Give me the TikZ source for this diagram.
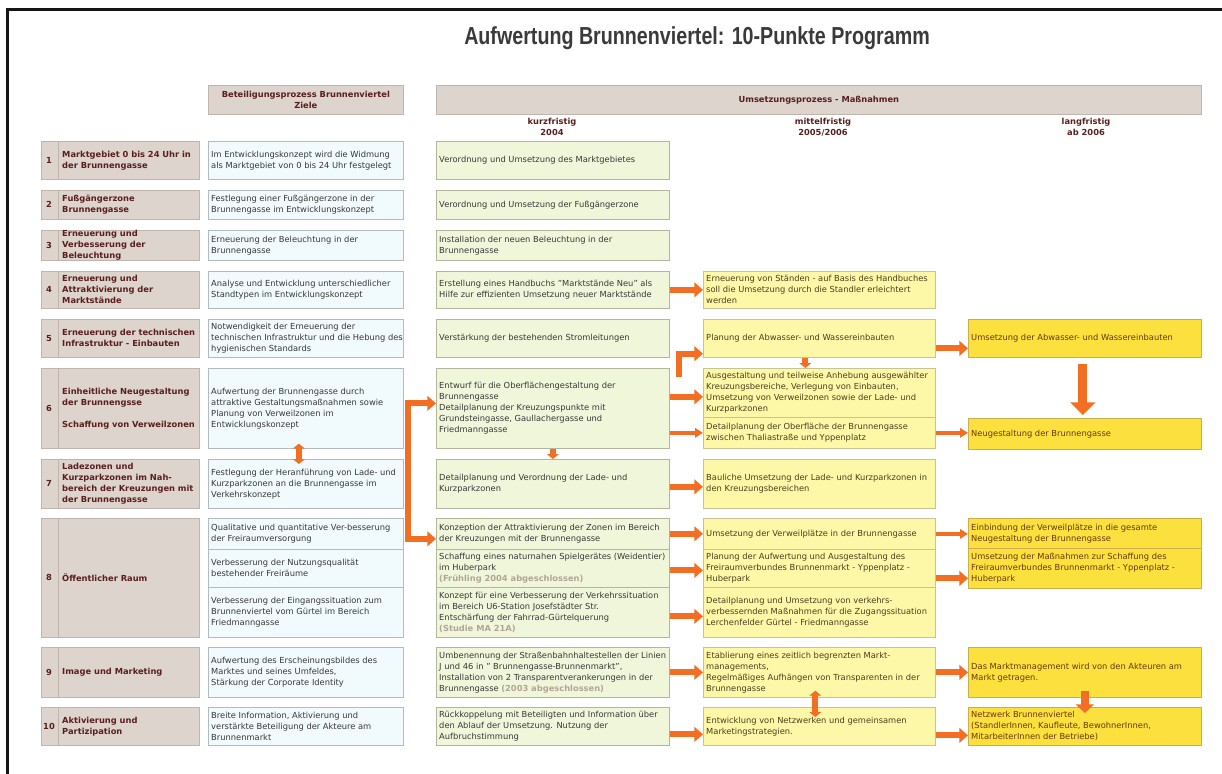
\documentclass[tikz,border=0pt]{standalone}
\usepackage{fontspec}
\setmainfont{DejaVu Sans}
\newfontfamily\titelfont[FakeStretch=0.8]{Liberation Sans}
\usetikzlibrary{arrows.meta,calc}

% Farben
\definecolor{rahmen}{HTML}{151515}
\definecolor{titelgrau}{HTML}{3A3A3A}
\definecolor{taupe}{HTML}{DDD4CD}
\definecolor{taupeRand}{HTML}{C0B4AB}
\definecolor{weinrot}{HTML}{5A1E1E}
\definecolor{zielFill}{HTML}{F1FAFC}
\definecolor{zielRand}{HTML}{B2BCC0}
\definecolor{kurzFill}{HTML}{F0F6DA}
\definecolor{kurzRand}{HTML}{B3B59C}
\definecolor{mittelFill}{HTML}{FDF8A8}
\definecolor{mittelRand}{HTML}{C9C296}
\definecolor{langFill}{HTML}{FBE03E}
\definecolor{langRand}{HTML}{CCAE4A}
\definecolor{pfeilfarbe}{HTML}{F26E22}
\definecolor{erledigt}{HTML}{B3A596}
\definecolor{textgrau}{HTML}{383838}
\definecolor{textoliv}{HTML}{4A3E1C}
\definecolor{textbraun}{HTML}{6A3612}

\newcommand{\klein}{\fontsize{7.1}{9.4}\selectfont}
\newcommand{\fertig}[1]{{\bfseries\color{erledigt}#1}}

% Kasten mit Text: Stil, Name, x, y (oben links), Hoehe, Text
\newcommand{\feld}[6]{%
  \node[#1, hoch=#5] (#2) at (#3,#4) {};
  \node[#1 text] (#2-t) at ($(#2.west)+(3,0)$) {#6};}

\tikzset{
  hoch/.style={minimum height={#1*0.3mm}},
  feld/.style={draw, line width=0.6pt, anchor=north west, inner sep=0pt},
  feldtext/.style={anchor=west, align=left, inner sep=0pt, font=\klein},
  kopf/.style={draw=taupeRand, fill=taupe, line width=0.6pt, anchor=north west,
    align=center, font=\klein\bfseries, text=weinrot, minimum height=8.7mm},
  spalte/.style={align=center, font=\klein\bfseries, text=weinrot, inner sep=0pt},
  titel/.style={feld, draw=taupeRand, fill=taupe, minimum width=47.4mm},
  titel text/.style={feldtext, font=\klein\bfseries, text=weinrot},
  nummer/.style={inner sep=0pt, font=\klein\bfseries, text=weinrot},
  ziel/.style={feld, draw=zielRand, fill=zielFill, minimum width=58.5mm},
  ziel text/.style={feldtext, text=textgrau},
  kurz/.style={feld, draw=kurzRand, fill=kurzFill, minimum width=69.9mm},
  kurz text/.style={feldtext, text=textgrau},
  mittel/.style={feld, draw=mittelRand, fill=mittelFill, minimum width=69.6mm},
  mittel text/.style={feldtext, text=textoliv},
  lang/.style={feld, draw=langRand, fill=langFill, minimum width=69.9mm},
  lang text/.style={feldtext, text=textbraun},
  % Pfeile
  pfeil/.style={draw=pfeilfarbe, line width=1.8mm, -{Triangle[width=4.4mm,length=2.6mm]}},
  pfeil duenn/.style={draw=pfeilfarbe, line width=1.1mm, -{Triangle[width=2.8mm,length=2.4mm]}},
  pfeil gross/.style={draw=pfeilfarbe, line width=2.7mm, -{Triangle[width=7.4mm,length=3.8mm]}},
  pfeil klein/.style={draw=pfeilfarbe, line width=1.8mm, -{Triangle[width=3.6mm,length=1.5mm]}},
  doppelpfeil/.style={draw=pfeilfarbe, line width=1.8mm,
    {Triangle[width=3.6mm,length=1.5mm]}-{Triangle[width=3.6mm,length=1.5mm]}},
}

\begin{document}
\begin{tikzpicture}[x=0.3mm, y=-0.3mm]
    \useasboundingbox (0,0) rectangle (1222,773);
    % Rahmen
    \draw[rahmen, line width=0.9mm] (7,800) -- (7,9.5) -- (1240,9.5);

    % Ueberschrift
    \node[font={\titelfont\bfseries\fontsize{21}{24}\selectfont}, text=titelgrau] (ueberschrift)
        at (697,38) {Aufwertung Brunnenviertel: 10-Punkte Programm};

    % Koepfe
    \node[kopf, minimum width=58.5mm] (zielkopf) at (208,85) {Beteiligungsprozess Brunnenviertel\\Ziele};
    \node[kopf, minimum width=229.5mm] (umsetzung) at (436,85) {Umsetzungsprozess - Maßnahmen};
    \node[spalte] (kurzkopf) at (552,127) {kurzfristig\\2004};
    \node[spalte] (mittelkopf) at (823,127) {mittelfristig\\2005/2006};
    \node[spalte] (langkopf) at (1086,127) {langfristig\\ab 2006};

    % Die zehn Punkte
    \foreach \nr/\oben/\hh/\txt in {
        1/141/38/{Marktgebiet 0 bis 24 Uhr in\\der Brunnengasse},
        2/190/29/{Fußgängerzone\\Brunnengasse},
        3/230/30/{Erneuerung und\\Verbesserung der\\Beleuchtung},
        4/271/37/{Erneuerung und\\Attraktivierung der\\Marktstände},
        5/319/38/{Erneuerung der technischen\\Infrastruktur - Einbauten},
        6/368/80/{Einheitliche Neugestaltung\\der Brunnengsse\\[9.4pt]Schaffung von Verweilzonen},
        7/459/49/{Ladezonen und\\Kurzparkzonen im Nah-\\bereich der Kreuzungen mit\\der Brunnengasse},
        8/518/119/{Öffentlicher Raum},
        9/647/50/{Image und Marketing},
        10/707/38/{Aktivierung und\\Partizipation}} {
        \node[titel, hoch=\hh] (titel\nr) at (41,\oben) {};
        \draw[taupeRand, line width=0.6pt] ($(titel\nr.north west)+(17,0)$) -- ($(titel\nr.south west)+(17,0)$);
        \node[nummer] (nr\nr) at ($(titel\nr.west)+(8,0)$) {\nr};
        \node[titel text] (tt\nr) at ($(titel\nr.west)+(21,0)$) {\txt};
    }

    % Ziele
    \feld{ziel}{ziel1}{208}{141}{38}{Im Entwicklungskonzept wird die Widmung\\als Marktgebiet von 0 bis 24 Uhr festgelegt}
    \feld{ziel}{ziel2}{208}{190}{29}{Festlegung einer Fußgängerzone in der\\Brunnengasse im Entwicklungskonzept}
    \feld{ziel}{ziel3}{208}{230}{30}{Erneuerung der Beleuchtung in der\\Brunnengasse}
    \feld{ziel}{ziel4}{208}{271}{37}{Analyse und Entwicklung unterschiedlicher\\Standtypen im Entwicklungskonzept}
    \feld{ziel}{ziel5}{208}{319}{38}{Notwendigkeit der Erneuerung der\\technischen Infrastruktur und die Hebung des\\hygienischen Standards}
    \feld{ziel}{ziel6}{208}{368}{80}{Aufwertung der Brunnengasse durch\\attraktive Gestaltungsmaßnahmen sowie\\Planung von Verweilzonen im\\Entwicklungskonzept}
    \feld{ziel}{ziel7}{208}{459}{49}{Festlegung der Heranführung von Lade- und\\Kurzparkzonen an die Brunnengasse im\\Verkehrskonzept}
    \feld{ziel}{ziel8a}{208}{518}{31}{Qualitative und quantitative Ver-besserung\\der Freiraumversorgung}
    \feld{ziel}{ziel8b}{208}{549}{38}{Verbesserung der Nutzungsqualität\\bestehender Freiräume}
    \feld{ziel}{ziel8c}{208}{587}{50}{Verbesserung der Eingangssituation zum\\Brunnenviertel vom Gürtel im Bereich\\Friedmanngasse}
    \feld{ziel}{ziel9}{208}{647}{50}{Aufwertung des Erscheinungsbildes des\\Marktes und seines Umfeldes,\\Stärkung der Corporate Identity}
    \feld{ziel}{ziel10}{208}{707}{38}{Breite Information, Aktivierung und\\verstärkte Beteiligung der Akteure am\\Brunnenmarkt}

    % kurzfristig
    \feld{kurz}{kurz1}{436}{141}{38}{Verordnung und Umsetzung des Marktgebietes}
    \feld{kurz}{kurz2}{436}{190}{29}{Verordnung und Umsetzung der Fußgängerzone}
    \feld{kurz}{kurz3}{436}{230}{30}{Installation der neuen Beleuchtung in der\\Brunnengasse}
    \feld{kurz}{kurz4}{436}{271}{37}{Erstellung eines Handbuchs "Marktstände Neu" als\\Hilfe zur effizienten Umsetzung neuer Marktstände}
    \feld{kurz}{kurz5}{436}{319}{38}{Verstärkung der bestehenden Stromleitungen}
    \feld{kurz}{kurz6}{436}{368}{80}{Entwurf für die Oberflächengestaltung der\\Brunnengasse\\Detailplanung der Kreuzungspunkte mit\\Grundsteingasse, Gaullachergasse und\\Friedmanngasse}
    \feld{kurz}{kurz7}{436}{459}{49}{Detailplanung und Verordnung der Lade- und\\Kurzparkzonen}
    \feld{kurz}{kurz8a}{436}{518}{31}{Konzeption der Attraktivierung der Zonen im Bereich\\der Kreuzungen mit der Brunnengasse}
    \feld{kurz}{kurz8b}{436}{549}{38}{Schaffung eines naturnahen Spielgerätes (Weidentier)\\im Huberpark\\\fertig{(Frühling 2004 abgeschlossen)}}
    \feld{kurz}{kurz8c}{436}{587}{50}{Konzept für eine Verbesserung der Verkehrssituation\\im Bereich U6-Station Josefstädter Str.\\Entschärfung der Fahrrad-Gürtelquerung\\\fertig{(Studie MA 21A)}}
    \feld{kurz}{kurz9}{436}{647}{50}{Umbenennung der Straßenbahnhaltestellen der Linien\\J und 46 in " Brunnengasse-Brunnenmarkt",\\Installation von 2 Transparentverankerungen in der\\Brunnengasse \fertig{(2003 abgeschlossen)}}
    \feld{kurz}{kurz10}{436}{707}{38}{Rückkoppelung mit Beteiligten und Information über\\den Ablauf der Umsetzung. Nutzung der\\Aufbruchstimmung}

    % mittelfristig
    \feld{mittel}{mittel4}{703}{271}{37}{Erneuerung von Ständen - auf Basis des Handbuches\\soll die Umsetzung durch die Standler erleichtert\\werden}
    \feld{mittel}{mittel5}{703}{319}{38}{Planung der Abwasser- und Wassereinbauten}
    \feld{mittel}{mittel6a}{703}{368}{49}{Ausgestaltung und teilweise Anhebung ausgewählter\\Kreuzungsbereiche, Verlegung von Einbauten,\\Umsetzung von Verweilzonen sowie der Lade- und\\Kurzparkzonen}
    \feld{mittel}{mittel6b}{703}{417}{31}{Detailplanung der Oberfläche der Brunnengasse\\zwischen Thaliastraße und Yppenplatz}
    \feld{mittel}{mittel7}{703}{459}{49}{Bauliche Umsetzung der Lade- und Kurzparkzonen in\\den Kreuzungsbereichen}
    \feld{mittel}{mittel8a}{703}{518}{31}{Umsetzung der Verweilplätze in der Brunnengasse}
    \feld{mittel}{mittel8b}{703}{549}{38}{Planung der Aufwertung und Ausgestaltung des\\Freiraumverbundes Brunnenmarkt - Yppenplatz -\\Huberpark}
    \feld{mittel}{mittel8c}{703}{587}{50}{Detailplanung und Umsetzung von verkehrs-\\verbessernden Maßnahmen für die Zugangssituation\\Lerchenfelder Gürtel - Friedmanngasse}
    \feld{mittel}{mittel9}{703}{647}{50}{Etablierung eines zeitlich begrenzten Markt-\\managements,\\Regelmäßiges Aufhängen von Transparenten in der\\Brunnengasse}
    \feld{mittel}{mittel10}{703}{707}{38}{Entwicklung von Netzwerken und gemeinsamen\\Marketingstrategien.}

    % langfristig
    \feld{lang}{lang5}{968}{319}{38}{Umsetzung der Abwasser- und Wassereinbauten}
    \feld{lang}{lang6b}{968}{418}{31}{Neugestaltung der Brunnengasse}
    \feld{lang}{lang8a}{968}{518}{30}{Einbindung der Verweilplätze in die gesamte\\Neugestaltung der Brunnengasse}
    \feld{lang}{lang8b}{968}{548}{40}{Umsetzung der Maßnahmen zur Schaffung des\\Freiraumverbundes Brunnenmarkt - Yppenplatz -\\Huberpark}
    \feld{lang}{lang9}{968}{647}{50}{Das Marktmanagement wird von den Akteuren am\\Markt getragen.}
    \feld{lang}{lang10}{968}{707}{38}{Netzwerk Brunnenviertel\\(StandlerInnen, Kaufleute, BewohnerInnen,\\MitarbeiterInnen der Betriebe)}

    % Pfeile innerhalb der Ziele
    \draw[doppelpfeil] ($(ziel6.south)+(-7,-5)$) -- ($(ziel7.north)+(-7,5)$);

    % Gabel von den Zielen zu den kurzfristigen Massnahmen
    \coordinate (gabel) at (408,470);
    \draw[pfeil, {Triangle[width=4.4mm,length=2.6mm]}-{Triangle[width=4.4mm,length=2.6mm]}]
        ($(kurz6.west)+(0,-5)$) -| (gabel) |- ($(kurz8a.west)+(0,5)$);

    % kurzfristig -> mittelfristig
    \draw[pfeil] (kurz4.east) -- (mittel4.west);
    \draw[pfeil] ($(kurz6.north east)+(9,9)$) |- ($(mittel5.south west)+(0,-4)$);
    \draw[pfeil] ($(kurz6.east |- mittel6a.west)+(0,4)$) -- ($(mittel6a.west)+(0,4)$);
    \draw[pfeil duenn] (kurz6.east |- mittel6b.west) -- (mittel6b.west);
    \draw[pfeil klein] (kurz6.south) -- (kurz7.north);
    \draw[pfeil] ($(kurz7.east)+(0,3)$) -- ($(mittel7.west)+(0,3)$);
    \draw[pfeil] (kurz8a.east) -- (mittel8a.west);
    \draw[pfeil] ($(kurz8b.east)+(0,2)$) -- ($(mittel8b.west)+(0,2)$);
    \draw[pfeil] ($(kurz8c.east)+(0,4)$) -- ($(mittel8c.west)+(0,4)$);
    \draw[pfeil] (kurz9.east) -- (mittel9.west);
    \draw[pfeil] ($(kurz10.east)+(0,8)$) -- ($(mittel10.west)+(0,8)$);

    % innerhalb mittelfristig
    \draw[pfeil klein] ($(mittel5.south)+(-14,0)$) -- ($(mittel6a.north)+(-14,0)$);
    \draw[doppelpfeil] ($(mittel9.south)+(-4,-7)$) -- ($(mittel10.north)+(-4,10)$);

    % mittelfristig -> langfristig
    \draw[pfeil] ($(mittel5.east)+(0,10)$) -- ($(lang5.west)+(0,10)$);
    \draw[pfeil duenn] (mittel6b.east) -- (mittel6b.east -| lang6b.west);
    \draw[pfeil duenn] (mittel8a.east) -- (mittel8a.east -| lang8a.west);
    \draw[pfeil] ($(mittel8b.east)+(0,10)$) -- ($(mittel8b.east -| lang8b.west)+(0,10)$);
    \draw[pfeil] (mittel9.east) -- (lang9.west);
    \draw[pfeil] ($(mittel10.east)+(0,9)$) -- ($(lang10.west)+(0,9)$);

    % innerhalb langfristig
    \draw[pfeil gross] ($(lang5.south)+(-2,6)$) -- ($(lang6b.north)+(-2,-3)$);
    \draw[pfeil, line width=2.4mm, -{Triangle[width=5.4mm,length=2.6mm]}]
        ($(lang9.south)+(0,-7)$) -- ($(lang10.north)+(0,6)$);
\end{tikzpicture}
\end{document}
